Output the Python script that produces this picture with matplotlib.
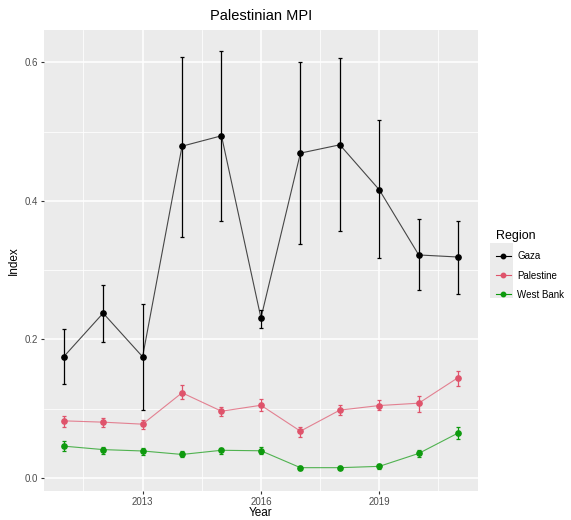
import numpy as np
import matplotlib.pyplot as plt
from matplotlib.lines import Line2D
from matplotlib.patches import Rectangle

plt.rcParams['font.family'] = ['Liberation Sans', 'DejaVu Sans']

years = list(range(2011, 2022))
regions = ['Gaza', 'Palestine', 'West Bank']
colors = ['#000000', '#DF536B', '#0E9A0E']

gaza = [0.175, 0.238, 0.175, 0.479, 0.494, 0.231, 0.469, 0.481, 0.416, 0.322, 0.319]
gaza_lo = [0.136, 0.197, 0.098, 0.348, 0.371, 0.217, 0.338, 0.356, 0.317, 0.272, 0.266]
gaza_hi = [0.215, 0.279, 0.251, 0.608, 0.617, 0.242, 0.601, 0.606, 0.517, 0.374, 0.371]

pal = [0.0825, 0.0806, 0.0777, 0.123, 0.0964, 0.105, 0.0676, 0.098, 0.1046, 0.108, 0.145]
pal_lo = [0.0739, 0.0729, 0.0705, 0.114, 0.089, 0.096, 0.0595, 0.0906, 0.0978, 0.095, 0.133]
pal_hi = [0.0897, 0.0873, 0.0844, 0.134, 0.103, 0.114, 0.0743, 0.106, 0.112, 0.118, 0.155]

wb = [0.046, 0.041, 0.039, 0.034, 0.040, 0.0393, 0.0149, 0.0149, 0.0168, 0.0355, 0.065]
wb_lo = [0.0389, 0.0345, 0.0336, 0.0297, 0.035, 0.0345, 0.0120, 0.0125, 0.0135, 0.0307, 0.0556]
wb_hi = [0.053, 0.045, 0.0436, 0.0384, 0.044, 0.0441, 0.0178, 0.0173, 0.0201, 0.0403, 0.074]

series = [(gaza, gaza_lo, gaza_hi), (pal, pal_lo, pal_hi), (wb, wb_lo, wb_hi)]

fig = plt.figure(figsize=(5.71, 5.2), dpi=100)
ax = fig.add_axes([0.077, 0.056, 0.76, 0.886])
ax.set_facecolor('#EBEBEB')

for (v, lo, hi), c in zip(series, colors):
    v = np.array(v)
    err = [v - np.array(lo), np.array(hi) - v]
    ax.errorbar(years, v, yerr=err, fmt='none', ecolor=c, elinewidth=0.9,
                capsize=1.5, capthick=0.9, zorder=3)
    ax.plot(years, v, color=c, lw=0.8, alpha=0.7, zorder=3)
    ax.plot(years, v, 'o', color=c, ms=3.8, zorder=4)

ax.set_xlim(2010.5, 2021.5)
ax.set_ylim(-0.0186, 0.6465)
ax.set_xticks([2013, 2016, 2019])
ax.set_xticks([2011.5, 2014.5, 2017.5, 2020.5], minor=True)
ax.set_yticks([0.0, 0.2, 0.4, 0.6])
ax.set_yticklabels(['0.0', '0.2', '0.4', '0.6'])
ax.set_yticks([0.1, 0.3, 0.5], minor=True)
ax.grid(which='major', color='white', lw=1.1, zorder=0)
ax.grid(which='minor', color='white', lw=0.55, zorder=0)
ax.set_axisbelow(True)
for s in ax.spines.values():
    s.set_visible(False)
ax.tick_params(which='major', length=2.5, color='#333333', labelsize=7, labelcolor='#4D4D4D', pad=2)
ax.tick_params(which='minor', length=0)

ax.set_xlabel('Year', fontsize=8.5, labelpad=0)
ax.set_ylabel('Index', fontsize=8.5, labelpad=3)
ax.set_title('Palestinian MPI', fontsize=10.5, pad=7)

# grey key background like ggplot legend keys
fig.patches.append(Rectangle((490 / 571, 1 - 298 / 520), 23 / 571, 55 / 520,
                             transform=fig.transFigure, facecolor='#EBEBEB',
                             edgecolor='none', zorder=0))

handles = [Line2D([], [], color=c, lw=0.8, marker='o', ms=3.2) for c in colors]
leg = fig.legend(handles, regions, title='Region', loc='upper left',
                 bbox_to_anchor=(0.862, 0.565), frameon=False, fontsize=7,
                 title_fontsize=9, handlelength=1.5, handletextpad=0.7,
                 labelspacing=0.95, borderaxespad=0)
leg._legend_box.align = 'left'

fig.savefig('out.png', dpi=100)
